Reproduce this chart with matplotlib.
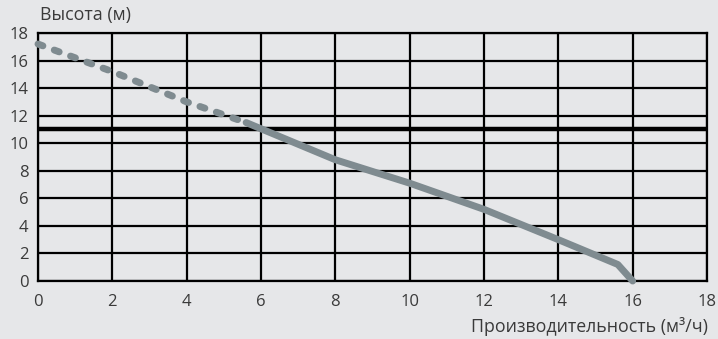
import matplotlib
matplotlib.use("Agg")
import matplotlib.pyplot as plt

plt.rcParams['font.family'] = ['Open Sans', 'DejaVu Sans']

# Data
flow_dashed = [0, 2, 4, 5.6]
head_dashed = [17.2, 15.2, 13.0, 11.5]
flow_solid = [5.6, 8, 10, 12, 14, 15.6, 16]
head_solid = [11.5, 8.8, 7.1, 5.2, 3.0, 1.2, 0]
threshold = 11
ticks = list(range(0, 19, 2))

bg = '#e6e7e9'
curve = '#7f8b90'
txt = '#3a3a3a'

fig = plt.figure(figsize=(7.18, 3.39), dpi=100, facecolor=bg)
ax = fig.add_axes([38/718, 1-281/339, (707-38)/718, (281-33)/339])
ax.set_facecolor(bg)
ax.set_xlim(0, 18)
ax.set_ylim(0, 18)
ax.set_xticks(ticks)
ax.set_yticks(ticks)
ax.grid(True, color='black', linewidth=1.6)
for s in ax.spines.values():
    s.set_color('black')
    s.set_linewidth(1.6)
ax.tick_params(length=0, labelsize=12, colors=txt)
ax.tick_params(axis='x', pad=9)
ax.tick_params(axis='y', pad=7)
ax.axhline(threshold, color='black', linewidth=3.2, zorder=3)
ax.plot(flow_dashed, head_dashed, color=curve, linewidth=5, linestyle=(0, (0.75, 1.75)),
        solid_capstyle='round', dash_capstyle='round', zorder=4, clip_on=False)
ax.plot(flow_solid, head_solid, color=curve, linewidth=5, solid_capstyle='round',
        solid_joinstyle='round', zorder=4, clip_on=False)

fig.text(40/718, 1-15/339, 'Высота (м)', fontsize=12.8, color=txt, va='center', ha='left')
fig.text(708/718, 1-326/339, 'Производительность (м³/ч)', fontsize=12.8, color=txt,
         va='center', ha='right')

fig.savefig('out.png', dpi=100, facecolor=bg)
